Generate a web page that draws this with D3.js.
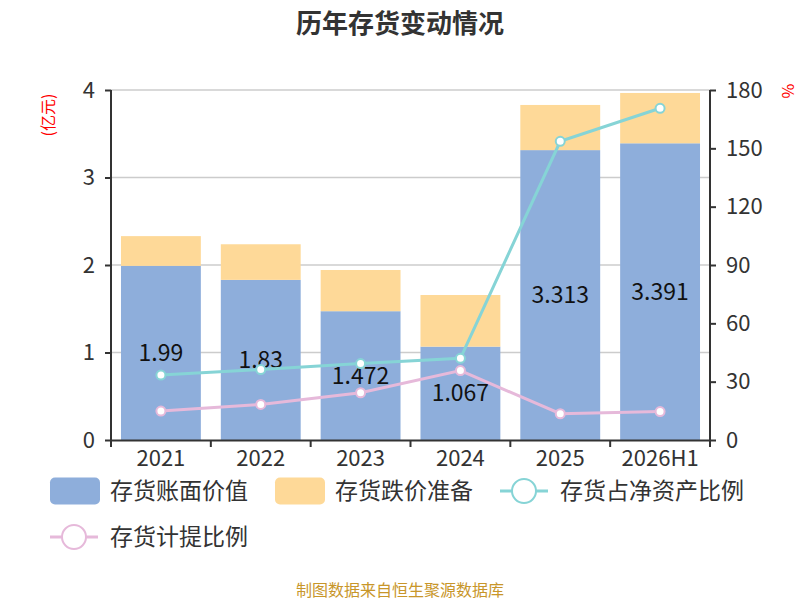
<!DOCTYPE html>
<html lang="zh">
<head>
  <meta charset="UTF-8" />
  <title>历年存货变动情况</title>
  <style>
    body { margin: 0; background: #fff; }
    svg { display: block; font-family: "Noto Sans CJK SC", "Noto Sans", sans-serif; }
  </style>
  <script src="https://cdn.jsdelivr.net/npm/d3@7"></script>
</head>
<body>
<script>
  const years = ["2021", "2022", "2023", "2024", "2025", "2026H1"];
  const bookValue = [1.99, 1.83, 1.472, 1.067, 3.313, 3.391];
  const reserve = [0.34, 0.407, 0.471, 0.59, 0.516, 0.575];
  const ratioNetAssets = [33.4, 36.2, 39.3, 42.0, 153.6, 170.6];
  const ratioProvision = [14.9, 18.3, 24.3, 35.7, 13.5, 14.6];
  const leftTicks = [0, 1, 2, 3, 4];
  const rightTicks = [0, 30, 60, 90, 120, 150, 180];

  const W = 800, H = 600;
  const m = { left: 111, right: 710, top: 90, bottom: 440 };

  const svg = d3.select("body").append("svg")
    .attr("width", W).attr("height", H);

  const x = d3.scaleBand().domain(years).range([m.left, m.right])
    .paddingInner(0.2).paddingOuter(0.1);
  const yL = d3.scaleLinear().domain([0, 4]).range([m.bottom, m.top]);
  const yR = d3.scaleLinear().domain([0, 180]).range([m.bottom, m.top]);

  // grid
  svg.append("g").selectAll("line").data(leftTicks.slice(1)).join("line")
    .attr("x1", m.left).attr("x2", m.right)
    .attr("y1", d => yL(d)).attr("y2", d => yL(d))
    .attr("stroke", "#ccc").attr("stroke-width", 1.5);

  // stacked bars
  const stack = years.map((y, i) => ({ year: y, book: bookValue[i], res: reserve[i] }));
  svg.append("g").selectAll("rect").data(stack).join("rect")
    .attr("x", d => x(d.year)).attr("width", x.bandwidth())
    .attr("y", d => yL(d.book)).attr("height", d => yL(0) - yL(d.book))
    .attr("fill", "#8eaedb");
  svg.append("g").selectAll("rect").data(stack).join("rect")
    .attr("x", d => x(d.year)).attr("width", x.bandwidth())
    .attr("y", d => yL(d.book + d.res)).attr("height", d => yL(d.book) - yL(d.book + d.res))
    .attr("fill", "#fed998");

  // axes
  const axL = svg.append("g").attr("transform", `translate(${m.left},0)`)
    .call(d3.axisLeft(yL).tickValues(leftTicks).tickFormat(d3.format("d")).tickSize(6).tickPadding(10));
  const axR = svg.append("g").attr("transform", `translate(${m.right},0)`)
    .call(d3.axisRight(yR).tickValues(rightTicks).tickSize(6).tickPadding(10));
  const axB = svg.append("g").attr("transform", `translate(0,${m.bottom})`)
    .call(d3.axisBottom(x).tickSize(0).tickPadding(10));
  // band boundary ticks on x axis
  const step = x.step();
  svg.append("g").selectAll("line").data(d3.range(years.length + 1)).join("line")
    .attr("x1", i => m.left + i * step).attr("x2", i => m.left + i * step)
    .attr("y1", m.bottom).attr("y2", m.bottom + 7)
    .attr("stroke", "#333").attr("stroke-width", 2);

  [axL, axR, axB].forEach(a => {
    a.select(".domain").attr("stroke", "#333").attr("stroke-width", 2);
    a.selectAll(".tick line").attr("stroke", "#333").attr("stroke-width", 2);
    a.selectAll("text").attr("fill", "#333").attr("font-size", 22)
      .attr("font-family", "'Noto Sans CJK SC', sans-serif");
  });
  axL.select(".domain").attr("d", `M0,${m.top}V${m.bottom}`);
  axR.select(".domain").attr("d", `M0,${m.top}V${m.bottom}`);

  // bar value labels
  svg.append("g").selectAll("text").data(stack).join("text")
    .attr("x", d => x(d.year) + x.bandwidth() / 2)
    .attr("y", d => (yL(d.book) + yL(0)) / 2)
    .attr("dy", "0.35em").attr("text-anchor", "middle")
    .attr("font-size", 23).attr("fill", "#111")
    .attr("font-family", "'Noto Sans CJK SC', sans-serif")
    .text(d => d.book);

  // lines
  const cx = d => x(d) + x.bandwidth() / 2;
  function drawLine(vals, color) {
    const pts = years.map((y, i) => [cx(y), yR(vals[i])]);
    svg.append("path").datum(pts)
      .attr("d", d3.line())
      .attr("fill", "none").attr("stroke", color).attr("stroke-width", 3);
    svg.append("g").selectAll("circle").data(pts).join("circle")
      .attr("cx", d => d[0]).attr("cy", d => d[1]).attr("r", 4.5)
      .attr("fill", "#fff").attr("stroke", color).attr("stroke-width", 2);
  }
  drawLine(ratioNetAssets, "#86d4d6");
  drawLine(ratioProvision, "#e6b9da");

  // title
  svg.append("text").attr("x", 400).attr("y", 33).attr("text-anchor", "middle")
    .attr("font-size", 26).attr("font-weight", "bold").attr("fill", "#333")
    .text("历年存货变动情况");

  // axis units
  svg.append("text").attr("transform", "translate(54,115) rotate(-90)")
    .attr("text-anchor", "middle").attr("font-size", 16).attr("fill", "#f00")
    .text("(亿元)");
  svg.append("text").attr("transform", "translate(782,91) rotate(90)")
    .attr("text-anchor", "middle").attr("font-size", 16).attr("fill", "#f00")
    .text("%");

  // legend
  const legend = [
    { name: "存货账面价值", type: "rect", color: "#8eaedb", x: 50, y: 491 },
    { name: "存货跌价准备", type: "rect", color: "#fed998", x: 275, y: 491 },
    { name: "存货占净资产比例", type: "line", color: "#86d4d6", x: 500, y: 491 },
    { name: "存货计提比例", type: "line", color: "#e6b9da", x: 50, y: 537 }
  ];
  const lg = svg.append("g").selectAll("g").data(legend).join("g")
    .attr("transform", d => `translate(${d.x},${d.y})`);
  lg.filter(d => d.type === "rect").append("rect")
    .attr("x", 0).attr("y", -13.5).attr("width", 50).attr("height", 27).attr("rx", 5)
    .attr("fill", d => d.color);
  lg.filter(d => d.type === "line").append("line")
    .attr("x1", 0).attr("x2", 48).attr("y1", 0).attr("y2", 0)
    .attr("stroke", d => d.color).attr("stroke-width", 3);
  lg.filter(d => d.type === "line").append("circle")
    .attr("cx", 24).attr("cy", 0).attr("r", 12)
    .attr("fill", "#fff").attr("stroke", d => d.color).attr("stroke-width", 2);
  lg.append("text").attr("x", 60).attr("dy", "0.35em")
    .attr("font-size", 23).attr("fill", "#333").text(d => d.name);

  // source
  svg.append("text").attr("x", 400).attr("y", 596).attr("text-anchor", "middle")
    .attr("font-size", 16).attr("fill", "#c8962a")
    .text("制图数据来自恒生聚源数据库");
</script>
</body>
</html>
